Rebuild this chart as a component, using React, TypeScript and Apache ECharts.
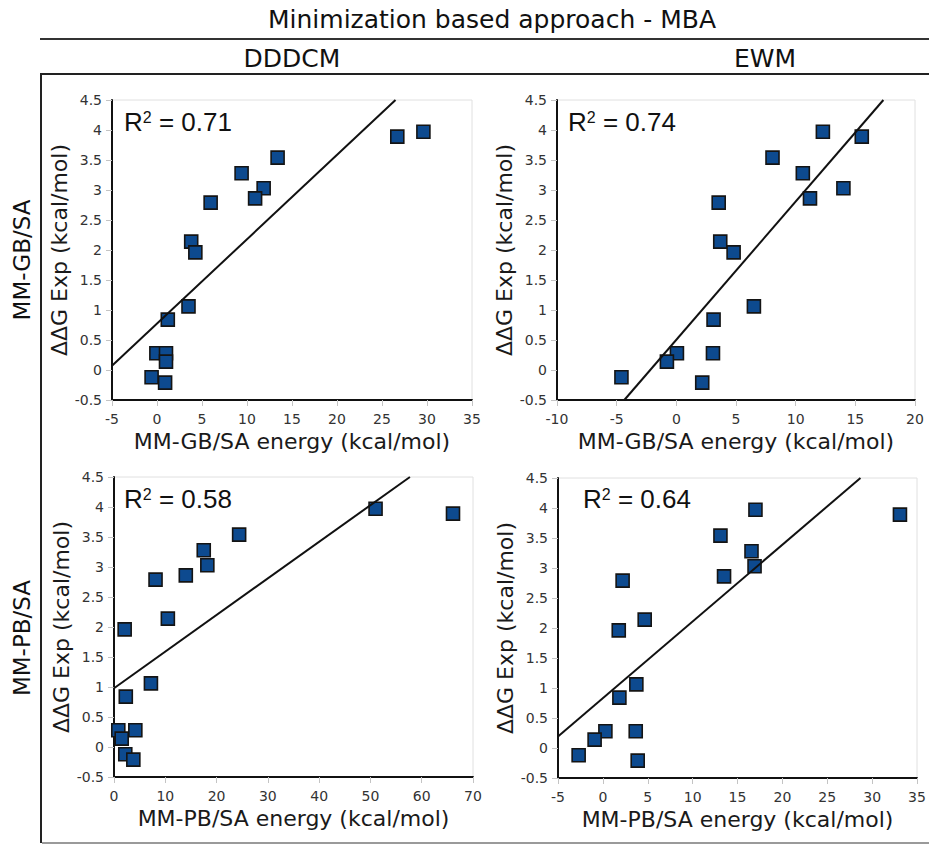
import React, { useEffect, useRef } from "react";
import * as echarts from "echarts";

// Experimental ΔΔG values (kcal/mol), same compounds in every panel
const expDG = [3.97, 3.89, 3.54, 3.28, 3.03, 2.86, 2.79, 2.14, 1.96, 1.06, 0.84, 0.28, 0.28, 0.14, -0.12, -0.21];

// Computed energies per panel (same compound order as expDG)
const gbDDDCM = [29.6, 26.7, 13.4, 9.4, 11.85, 10.9, 5.96, 3.8, 4.26, 3.5, 1.2, -0.07, 1.0, 1.0, -0.6, 0.9];
const gbEWM = [12.28, 15.54, 8.06, 10.6, 14.0, 11.2, 3.55, 3.68, 4.8, 6.5, 3.12, 0.05, 3.07, -0.79, -4.6, 2.17];
const pbDDDCM = [51.0, 66.1, 24.4, 17.5, 18.2, 14.0, 8.1, 10.5, 2.08, 7.2, 2.3, 0.84, 4.16, 1.5, 2.2, 3.77];
const pbEWM = [17.0, 33.1, 13.1, 16.56, 16.9, 13.5, 2.2, 4.66, 1.77, 3.73, 1.84, 0.28, 3.66, -0.92, -2.7, 3.88];

// Regression line end points [x, y]
const fitGbDDDCM = [[-5, 0.07], [26.5, 4.5]];
const fitGbEWM = [[-4.36, -0.5], [17.35, 4.5]];
const fitPbDDDCM = [[0, 0.98], [57.7, 4.5]];
const fitPbEWM = [[-5, 0.19], [28.7, 4.5]];

const r2Values = ["0.71", "0.74", "0.58", "0.64"];

// X axis ranges [min, max, interval]
const xRanges = [
  [-5, 35, 5],
  [-10, 20, 5],
  [0, 70, 10],
  [-5, 35, 5],
];

const xNames = [
  "MM-GB/SA energy (kcal/mol)",
  "MM-GB/SA energy (kcal/mol)",
  "MM-PB/SA energy (kcal/mol)",
  "MM-PB/SA energy (kcal/mol)",
];
const yName = "ΔΔG Exp (kcal/mol)";
const title = "Minimization based approach - MBA";
const columnTitles = ["DDDCM", "EWM"];
const rowTitles = ["MM-GB/SA", "MM-PB/SA"];

const FONT = "DejaVu Sans";

export default function App() {
  const ref = useRef<HTMLDivElement>(null);

  useEffect(() => {
    if (!ref.current) return;
    const chart = echarts.init(ref.current, undefined, { renderer: "svg" });

    const grids = [
      { left: 112, top: 100, width: 360, height: 300 },
      { left: 557, top: 100, width: 358, height: 300 },
      { left: 114, top: 477, width: 359, height: 300 },
      { left: 558, top: 478, width: 359, height: 300 },
    ];
    const xsets = [gbDDDCM, gbEWM, pbDDDCM, pbEWM];
    const fits = [fitGbDDDCM, fitGbEWM, fitPbDDDCM, fitPbEWM];
    const r2Pos = [
      [124, 122],
      [568, 122],
      [124, 499],
      [583, 499],
    ];

    const option: any = {
      animation: false,
      backgroundColor: "#fff",
      grid: grids.map((g) => ({
        ...g,
        show: true,
        borderColor: "#e0e0e0",
        borderWidth: 1,
        backgroundColor: "#fff",
        containLabel: false,
      })),
      xAxis: grids.map((_, i) => ({
        type: "value",
        gridIndex: i,
        min: xRanges[i][0],
        max: xRanges[i][1],
        interval: xRanges[i][2],
        name: xNames[i],
        nameLocation: "middle",
        nameGap: 30,
        nameTextStyle: { fontFamily: FONT, fontSize: 22, color: "#1a1a1a" },
        axisLine: { show: true, onZero: false, lineStyle: { color: "#111", width: 2 } },
        axisTick: { show: true, length: 6, lineStyle: { color: "#c4c4c4", width: 1 } },
        axisLabel: { fontFamily: FONT, fontSize: 14, color: "#333", margin: 12 },
        splitLine: { show: false },
      })),
      yAxis: grids.map((_, i) => ({
        type: "value",
        gridIndex: i,
        min: -0.5,
        max: 4.5,
        interval: 0.5,
        name: yName,
        nameLocation: "middle",
        nameGap: 33,
        nameTextStyle: { fontFamily: FONT, fontSize: 22, color: "#1a1a1a" },
        axisLine: { show: true, onZero: false, lineStyle: { color: "#111", width: 2 } },
        axisTick: { show: true, length: 6, lineStyle: { color: "#c4c4c4", width: 1 } },
        axisLabel: { fontFamily: FONT, fontSize: 14, color: "#333", margin: 10 },
        splitLine: { show: false },
      })),
      series: [
        ...xsets.map((xs, i) => ({
          type: "scatter",
          xAxisIndex: i,
          yAxisIndex: i,
          symbol: "rect",
          symbolSize: 13,
          itemStyle: { color: "#0d4a8f", borderColor: "#141414", borderWidth: 1.6, opacity: 1 },
          data: xs.map((x, k) => [x, expDG[k]]),
          z: 2,
        })),
        ...fits.map((f, i) => ({
          type: "line",
          xAxisIndex: i,
          yAxisIndex: i,
          data: f,
          showSymbol: false,
          symbol: "none",
          lineStyle: { color: "#111", width: 2 },
          z: 3,
        })),
      ],
      graphic: [
        {
          type: "text",
          x: 492,
          y: 19,
          style: {
            text: title,
            font: `25px '${FONT}'`,
            fill: "#111",
            align: "center",
            verticalAlign: "middle",
          },
        },
        {
          type: "line",
          shape: { x1: 40, y1: 39, x2: 929, y2: 39 },
          style: { stroke: "#333", lineWidth: 2 },
        },
        ...columnTitles.map((t, i) => ({
          type: "text",
          x: i === 0 ? 292 : 765,
          y: 58,
          style: {
            text: t,
            font: `25px '${FONT}'`,
            fill: "#111",
            align: "center",
            verticalAlign: "middle",
          },
        })),
        {
          type: "polyline",
          shape: { points: [[929, 74], [41, 74], [41, 843]] },
          style: { stroke: "#222", lineWidth: 2, fill: null },
        },
        {
          type: "line",
          shape: { x1: 42, y1: 843, x2: 929, y2: 843 },
          style: { stroke: "#9a9a9a", lineWidth: 2 },
        },
        ...rowTitles.map((t, i) => ({
          type: "text",
          x: 22,
          y: i === 0 ? 260 : 638,
          rotation: Math.PI / 2,
          style: {
            text: t,
            font: `23px '${FONT}'`,
            fill: "#111",
            align: "center",
            verticalAlign: "middle",
          },
        })),
        ...r2Values.map((v, i) => ({
          type: "text",
          x: r2Pos[i][0],
          y: r2Pos[i][1],
          z: 10,
          style: {
            text: `{r|R}{s|2}{r| = ${v}}`,
            align: "left",
            verticalAlign: "middle",
            rich: {
              r: { fontFamily: "Liberation Sans", fontSize: 26, fill: "#111", color: "#111" },
              s: { fontFamily: "Liberation Sans", fontSize: 16, fill: "#111", color: "#111", verticalAlign: "top" },
            },
          },
        })),
      ],
    };

    chart.setOption(option);
    return () => chart.dispose();
  }, []);

  return (
    <div
      ref={ref}
      style={{ position: "fixed", left: 0, top: 0, width: 929, height: 845, background: "#fff" }}
    />
  );
}
